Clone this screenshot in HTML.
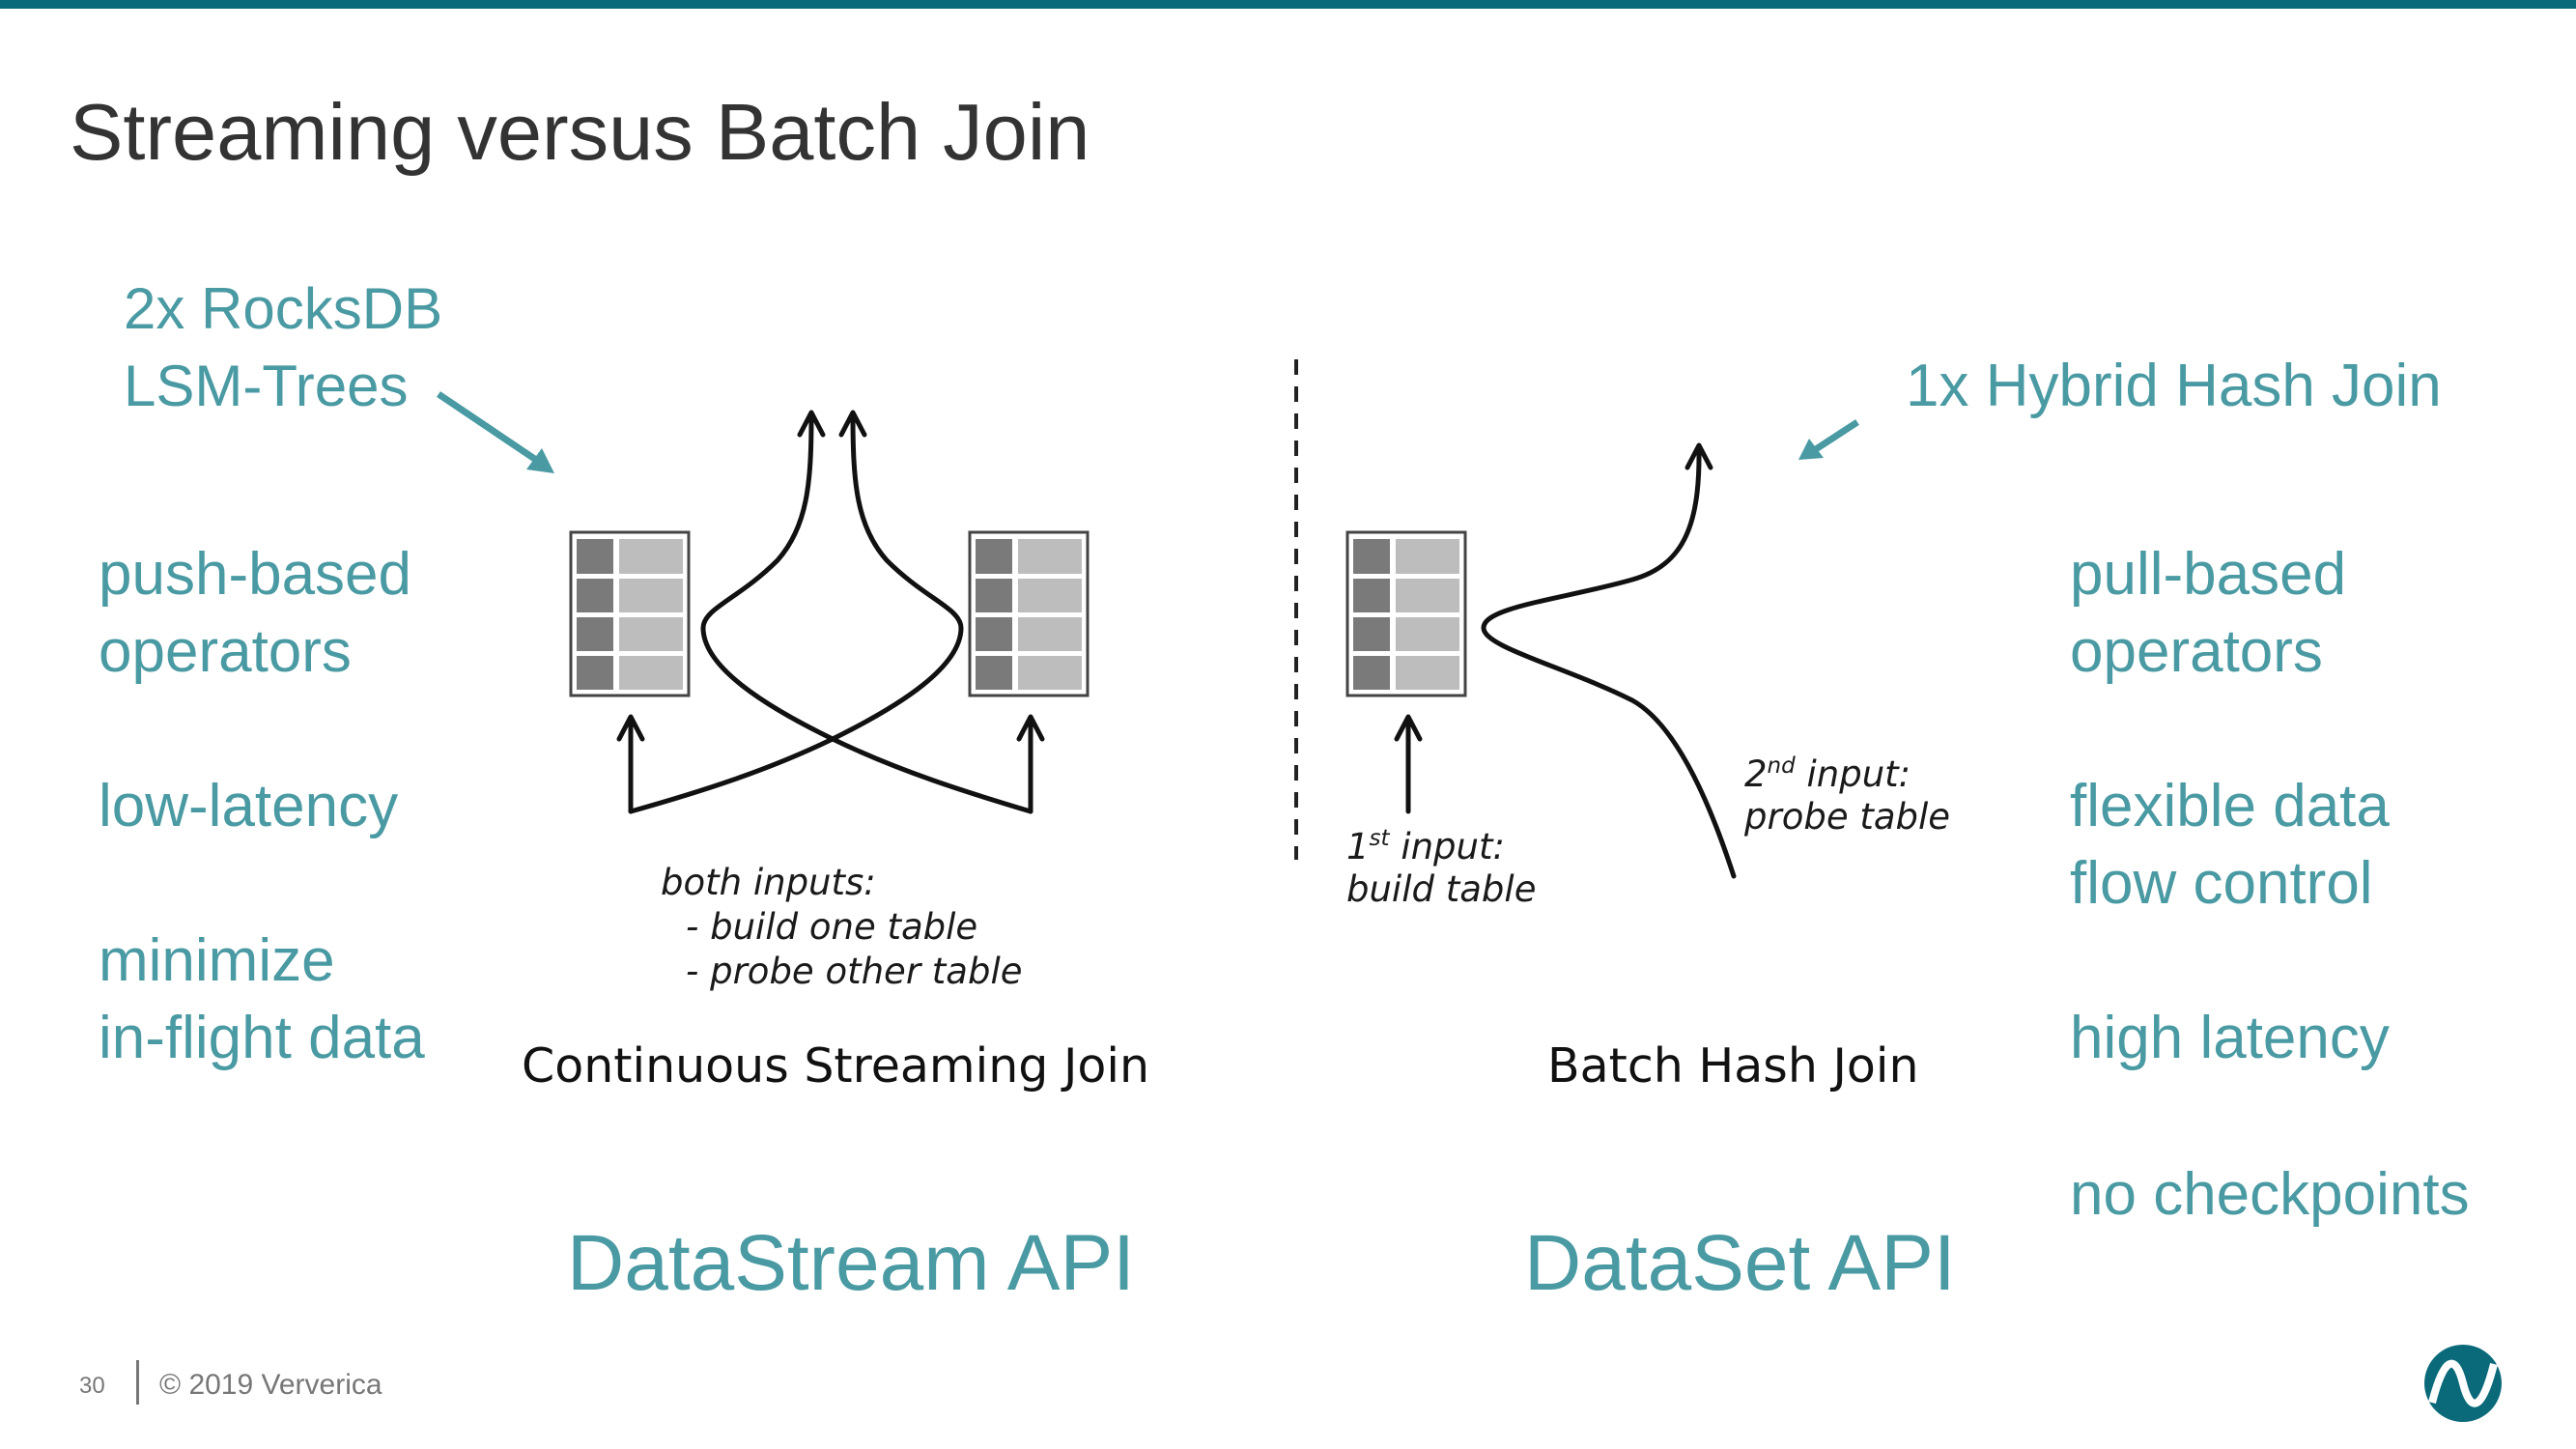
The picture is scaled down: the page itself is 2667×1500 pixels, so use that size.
<!DOCTYPE html>
<html><head><meta charset="utf-8"><style>
html,body{margin:0;padding:0;background:#fff;}
svg{display:block;}
.t{font-family:"Liberation Sans",sans-serif;fill:#4a9aa3;font-size:62px;}
.d{font-family:"DejaVu Sans",sans-serif;fill:#1a1a1a;font-style:italic;font-size:37px;}
</style></head><body>
<svg width="2667" height="1500" viewBox="0 0 2667 1500" xmlns="http://www.w3.org/2000/svg">
<rect x="0" y="0" width="2667" height="9" fill="#0b6a7a"/>
<text x="72" y="165" font-family="Liberation Sans, sans-serif" font-size="83" fill="#333">Streaming versus Batch Join</text>

<text class="t" x="128" y="340" style="font-size:60px">2x RocksDB</text>
<text class="t" x="128" y="420" style="font-size:60px">LSM-Trees</text>
<text class="t" x="102" y="615">push-based</text>
<text class="t" x="102" y="695">operators</text>
<text class="t" x="102" y="855">low-latency</text>
<text class="t" x="102" y="1015">minimize</text>
<text class="t" x="102" y="1095">in-flight data</text>

<text class="t" x="1973" y="420">1x Hybrid Hash Join</text>
<text class="t" x="2143" y="615">pull-based</text>
<text class="t" x="2143" y="695">operators</text>
<text class="t" x="2143" y="855">flexible data</text>
<text class="t" x="2143" y="935">flow control</text>
<text class="t" x="2143" y="1095">high latency</text>
<text class="t" x="2143" y="1257">no checkpoints</text>

<text class="t" x="587" y="1335" style="font-size:82px">DataStream API</text>
<text class="t" x="1578" y="1335" style="font-size:82px">DataSet API</text>

<line x1="454" y1="408" x2="555" y2="476" stroke="#4a9aa3" stroke-width="7"/>
<polygon points="574,490 545,486 561,464" fill="#4a9aa3"/>
<line x1="1923" y1="437" x2="1880" y2="465" stroke="#4a9aa3" stroke-width="7"/>
<polygon points="1862,476 1873,454 1888,474" fill="#4a9aa3"/>

<g id="tbl">
<rect x="591" y="551" width="122" height="169" fill="#fff" stroke="#444" stroke-width="3"/>
<rect x="597" y="558" width="38" height="36" fill="#7a7a7a"/><rect x="641" y="558" width="66" height="36" fill="#bdbdbd"/>
<rect x="597" y="599" width="38" height="35" fill="#7a7a7a"/><rect x="641" y="599" width="66" height="35" fill="#bdbdbd"/>
<rect x="597" y="639" width="38" height="35" fill="#7a7a7a"/><rect x="641" y="639" width="66" height="35" fill="#bdbdbd"/>
<rect x="597" y="679" width="38" height="35" fill="#7a7a7a"/><rect x="641" y="679" width="66" height="35" fill="#bdbdbd"/>
</g>
<use href="#tbl" x="413" y="0"/>
<use href="#tbl" x="804" y="0"/>

<g fill="none" stroke="#111" stroke-width="5" stroke-linejoin="round" stroke-linecap="round">
<path d="M840,430 C840,500 836,545 805,580 C765,620 728,630 728,650 C728,690 790,730 862,765 C930,798 1000,820 1067,840"/>
<path d="M883,430 C883,500 887,545 918,580 C958,620 995,630 995,650 C995,690 933,730 862,765 C794,798 724,820 653,840"/>
<path d="M653,840 L653,745 M1067,840 L1067,745"/>
<path d="M828,450 L840,427 L852,450 M871,450 L883,427 L895,450 M641,765 L653,742 L665,765 M1055,765 L1067,742 L1079,765"/>
<path d="M1759,464 C1760,540 1745,585 1690,600 C1620,620 1536,628 1536,650 C1536,670 1620,690 1690,725 C1735,750 1770,830 1795,907"/>
<path d="M1747,484 L1759,461 L1771,484"/>
<path d="M1458,840 L1458,745 M1446,765 L1458,742 L1470,765"/>
</g>
<line x1="1342" y1="372" x2="1342" y2="890" stroke="#222" stroke-width="4" stroke-dasharray="16,12"/>

<text class="d" x="684" y="926">both inputs:</text>
<text class="d" x="710" y="972">- build one table</text>
<text class="d" x="710" y="1018">- probe other table</text>
<text class="d" x="1394" y="889">1<tspan font-size="23" dy="-14">st</tspan><tspan dy="14"> input:</tspan></text>
<text class="d" x="1394" y="933">build table</text>
<text class="d" x="1806" y="814">2<tspan font-size="23" dy="-14">nd</tspan><tspan dy="14"> input:</tspan></text>
<text class="d" x="1806" y="858">probe table</text>

<text x="540" y="1120" font-family="DejaVu Sans, sans-serif" font-size="49" fill="#111">Continuous Streaming Join</text>
<text x="1602" y="1120" font-family="DejaVu Sans, sans-serif" font-size="49" fill="#111">Batch Hash Join</text>

<text x="82" y="1442" font-family="Liberation Sans, sans-serif" font-size="24" fill="#777">30</text>
<rect x="141" y="1408" width="3" height="46" fill="#777"/>
<text x="165" y="1443" font-family="Liberation Sans, sans-serif" font-size="30" fill="#777">© 2019 Ververica</text>
<circle cx="2550" cy="1432" r="40" fill="#0b6a7a"/>
<path d="M2518,1452 C2530,1405 2542,1400 2550,1432 C2558,1464 2570,1460 2582,1412" fill="none" stroke="#fff" stroke-width="8"/>
</svg>
</body></html>
